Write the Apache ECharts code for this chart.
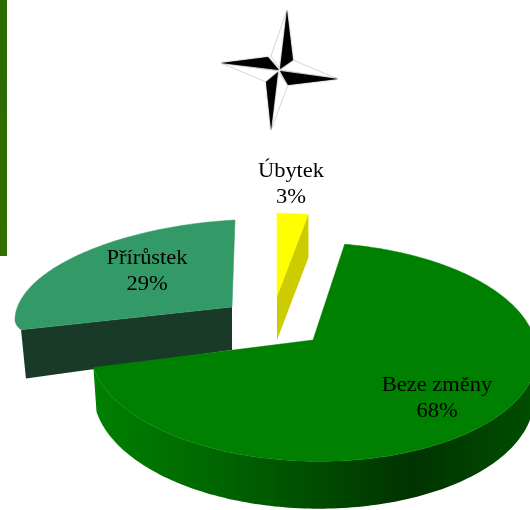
<!DOCTYPE html>
<html>
<head>
<meta charset="utf-8">
<style>
  html, body { margin: 0; padding: 0; background: #fff; }
  #chart { width: 530px; height: 510px; }
</style>
<script src="https://cdn.jsdelivr.net/npm/echarts@6/dist/echarts.min.js"></script>
</head>
<body>
<div id="chart"></div>
<script>
const categories = ['Beze změny', 'Přírůstek', 'Úbytek']
const values = [68, 29, 3]
// slices go clockwise from the top of the pie, ordered as drawn in the source
const startOrder = [2, 0, 1]
const drawOrder = [1, 2, 0]

// each exploded slice has its own apex and foreshortening
const sliceLayout = [
  { ax: 313, ay: 340, rx: 222, ry: 108, t: 0.11, skew: 6, tilt: 0, fan: 0.014, depth: 43, top: '#008000', lx: 437, ly: 398 },
  { ax: 232, ay: 307, rx: 217, ry: 87, ryFront: 45, t: 0, skew: -3, tilt: 12, fan: 0.023, depth: 43, grow: 0.115, top: '#339966', side: '#193a29', lx: 147, ly: 271 },
  { ax: 277, ay: 297, rx: 176, ry: 88, t: 0.05, skew: 0, tilt: 0, fan: 0, depth: 43, top: '#ffff00', side: '#cccc00', lx: 291, ly: 184 }
]

const total = values.reduce((a, b) => a + b, 0)
const angles = {}
let acc = 0
startOrder.forEach(i => {
  const span = values[i] / total * Math.PI * 2
  angles[i] = [acc, acc + span]
  acc += span
})

function project (l, u, v) {
  const k = 1 / (1 - l.t * v)
  const ry = v > 0 && l.ryFront ? l.ryFront : l.ry
  return [l.ax + l.rx * u * k + l.skew * v, l.ay + ry * v * k - l.tilt * u]
}

function arcPoints (l, a0, a1) {
  const pts = []
  const n = Math.max(4, Math.round((a1 - a0) / 0.02))
  for (let i = 0; i <= n; i++) {
    const a = a0 + (a1 - a0) * i / n
    pts.push(project(l, Math.sin(a), -Math.cos(a)))
  }
  return pts
}

function renderSlice (params, api) {
  const idx = api.value(0)
  const l = sliceLayout[idx]
  const [a0, a1] = angles[idx]
  const arc = arcPoints(l, a0, a1)
  const apex = [l.ax, l.ay]
  const children = []
  const down = p => {
    const dx = p[0] - l.ax
    const grow = 1 + (l.grow || 0) * Math.abs(dx) / l.rx + (p[1] > l.ay ? (p[1] - l.ay) / 1200 : 0)
    return [p[0] - dx * l.fan, p[1] + l.depth * grow]
  }

  if (idx === 0) {
    // curved wall along the front of the big slice
    const front = arc.filter(p => p[1] >= l.ay)
    children.push({
      type: 'polygon',
      shape: { points: front.concat(front.slice().reverse().map(down)) },
      style: {
        fill: new echarts.graphic.LinearGradient(94, 0, 530, 0, [
          { offset: 0, color: '#008000' },
          { offset: 0.3, color: '#006400' },
          { offset: 0.73, color: '#003300' },
          { offset: 1, color: '#004d00' }
        ], true)
      }
    })
  } else if (idx === 1) {
    // cut face of the left slice
    const p = arc[0]
    children.push({
      type: 'polygon',
      shape: { points: [apex, p, down(p), down(apex)] },
      style: { fill: l.side }
    })
  }

  children.push({
    type: 'polygon',
    shape: { points: [apex].concat(arc) },
    style: { fill: l.top, stroke: l.top, lineWidth: 0.5 }
  })

  if (idx === 2) {
    // cut face of the thin slice sits in front of its top
    const p = arc[arc.length - 1]
    children.push({
      type: 'polygon',
      shape: { points: [apex, p, down(p), down(apex)] },
      style: { fill: l.side }
    })
  }

  children.push({
    type: 'text',
    x: l.lx,
    y: l.ly,
    scaleX: 1.07,
    style: {
      text: categories[idx] + '\n' + values[idx] + '%',
      x: 0,
      y: 0,
      align: 'center',
      verticalAlign: 'middle',
      font: '21px "Liberation Serif"',
      lineHeight: 26,
      fill: '#000'
    }
  })
  return { type: 'group', children }
}

// compass star, half black, half white with grey outline
const starBlack = [
  [[287, 10], [280, 69], [293, 60]],
  [[280, 71], [338, 79], [288, 85]],
  [[278, 72], [266, 82], [271, 130]],
  [[279, 70], [268, 57], [221, 63]]
]
const starWhite = [
  [[287, 10], [271, 56], [280, 69]],
  [[280, 70], [293, 60], [338, 79]],
  [[278, 72], [271, 130], [288, 85]],
  [[221, 63], [266, 82], [279, 71]]
]
const starGraphic = starWhite.map(points => ({
  type: 'polygon',
  shape: { points },
  style: { fill: '#fff', stroke: '#d6d6d6', lineWidth: 1 }
})).concat(starBlack.map(points => ({
  type: 'polygon',
  shape: { points },
  style: { fill: '#000', shadowBlur: 1.5, shadowColor: '#555' }
})))

const chart = echarts.init(document.getElementById('chart'), null, { renderer: 'canvas' })
chart.setOption({
  backgroundColor: '#fff',
  animation: false,
  graphic: [
    {
      type: 'rect',
      shape: { x: 0, y: 0, width: 7, height: 256 },
      style: {
        fill: new echarts.graphic.LinearGradient(0, 0, 0, 1, [
          { offset: 0, color: '#2a6a00' },
          { offset: 1, color: '#336e00' }
        ])
      }
    }
  ].concat(starGraphic),
  series: [{
    type: 'custom',
    coordinateSystem: 'none',
    silent: true,
    clip: false,
    renderItem: renderSlice,
    data: drawOrder.map(i => [i])
  }]
})
</script>
</body>
</html>
